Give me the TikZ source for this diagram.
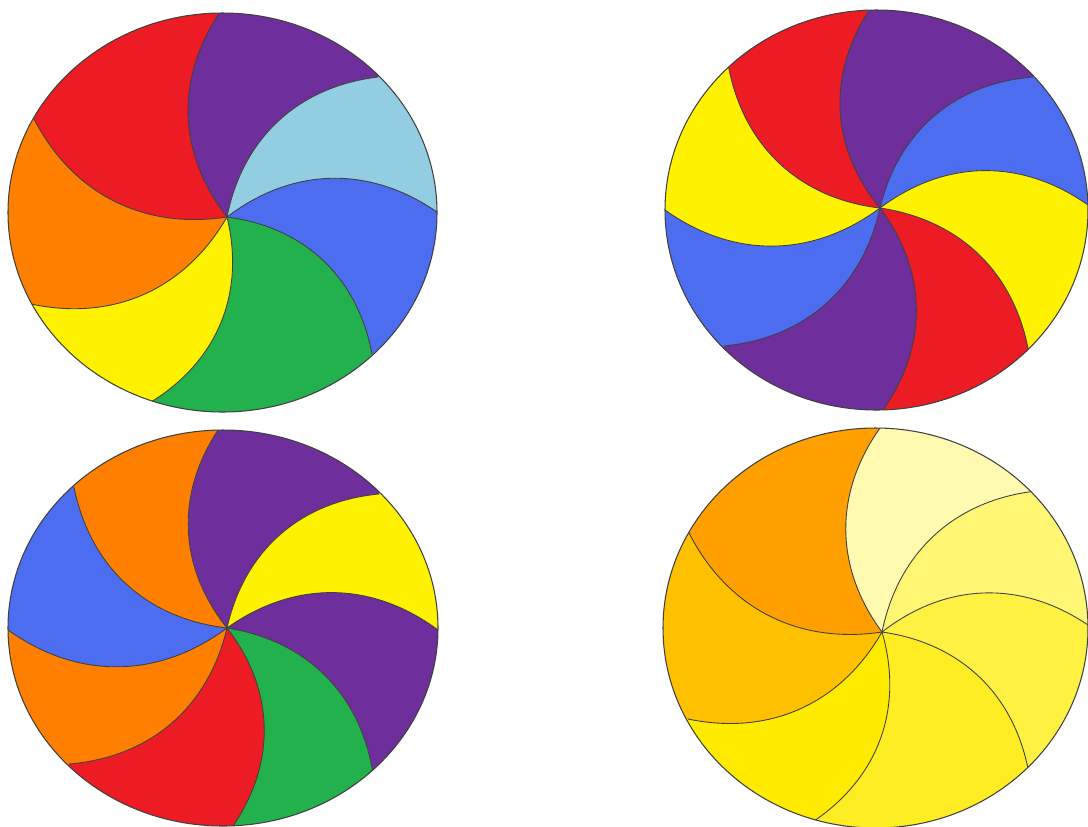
\documentclass[tikz,border=0pt]{standalone}
\usepackage{xcolor}
\usepackage{tikz}
\usetikzlibrary{calc}

% Wheel colours
\definecolor{wRed}{RGB}{237,28,36}
\definecolor{wPurple}{RGB}{110,46,155}
\definecolor{wSky}{RGB}{147,205,225}
\definecolor{wBlue}{RGB}{76,109,240}
\definecolor{wGreen}{RGB}{34,177,76}
\definecolor{wYellow}{RGB}{255,242,0}
\definecolor{wOrange}{RGB}{255,127,0}
% Shades for the last wheel
\definecolor{sOrange}{RGB}{255,160,0}
\definecolor{sAmber}{RGB}{255,192,0}
\definecolor{sYellowA}{RGB}{255,235,0}
\definecolor{sYellowB}{RGB}{255,237,35}
\definecolor{sYellowC}{RGB}{255,241,65}
\definecolor{sYellowD}{RGB}{255,246,115}
\definecolor{sYellowE}{RGB}{255,250,175}

\tikzset{
  rim/.style={draw=black!75, line width=0.6pt},
  swirl/.style={draw=black!75, line width=0.5pt}
}

\begin{document}
\begin{tikzpicture}[x=0.02cm, y=-0.02cm]

    % Canvas in pixel units, y pointing down
    \useasboundingbox (0,0) rectangle (1088,826);

    % Bend of every swirl line
    \def\bn{36}

    % ---- Wheel 1 (top left), seven colours ----
    \coordinate (c1) at (227,217);
    \foreach \i/\px/\py in {1/220/12, 2/378/77, 3/437/212, 4/372/354, 5/151/402, 6/31/304, 7/33/117}
        \coordinate (p\i) at (\px,\py);
    \begin{scope}
        \clip (222.5,212.5) ellipse (214.5 and 199.5);
        \foreach \i/\j/\col in {1/2/wPurple, 2/3/wSky, 3/4/wBlue, 4/5/wGreen, 5/6/wYellow, 6/7/wOrange, 7/1/wRed}
            \fill[\col] (c1) to[bend left=\bn] (p\i) -- ($(c1)!1.8!(p\i)$) -- ($(c1)!1.8!(p\j)$) -- (p\j) to[bend right=\bn] (c1) -- cycle;
        \foreach \i in {1,...,7}
            \draw[swirl] (c1) to[bend left=\bn] (p\i);
    \end{scope}
    \draw[rim] (222.5,212.5) ellipse (214.5 and 199.5);

    % ---- Wheel 2 (top right), four colours twice ----
    \coordinate (c2) at (880,208);
    \foreach \i/\px/\py in {1/868/12, 2/1033/77, 3/1088/205, 4/1029/354, 5/883/410, 6/724/346, 7/665/210, 8/729/69}
        \coordinate (q\i) at (\px,\py);
    \begin{scope}
        \clip (876.5,210) ellipse (211.5 and 200);
        \foreach \i/\j/\col in {1/2/wPurple, 2/3/wBlue, 3/4/wYellow, 4/5/wRed, 5/6/wPurple, 6/7/wBlue, 7/8/wYellow, 8/1/wRed}
            \fill[\col] (c2) to[bend left=\bn] (q\i) -- ($(c2)!1.8!(q\i)$) -- ($(c2)!1.8!(q\j)$) -- (q\j) to[bend right=\bn] (c2) -- cycle;
        \foreach \i in {1,...,8}
            \draw[swirl] (c2) to[bend left=\bn] (q\i);
    \end{scope}
    \draw[rim] (876.5,210) ellipse (211.5 and 200);

    % ---- Wheel 3 (bottom left), eight parts ----
    \coordinate (c3) at (227,628);
    \foreach \i/\px/\py in {1/218/430, 2/379/494, 3/438/630, 4/373/773, 5/233/826, 6/69/764, 7/8/630, 8/74/487}
        \coordinate (r\i) at (\px,\py);
    \begin{scope}
        \clip (223,628) ellipse (215 and 198);
        \foreach \i/\j/\col in {1/2/wPurple, 2/3/wYellow, 3/4/wPurple, 4/5/wGreen, 5/6/wRed, 6/7/wOrange, 7/8/wBlue, 8/1/wOrange}
            \fill[\col] (c3) to[bend left=\bn] (r\i) -- ($(c3)!1.8!(r\i)$) -- ($(c3)!1.8!(r\j)$) -- (r\j) to[bend right=\bn] (c3) -- cycle;
        \foreach \i in {1,...,8}
            \draw[swirl] (c3) to[bend left=\bn] (r\i);
    \end{scope}
    \draw[rim] (223,628) ellipse (215 and 198);

    % ---- Wheel 4 (bottom right), orange to pale yellow ----
    \coordinate (c4) at (882,632);
    \foreach \i/\px/\py in {1/880/428, 2/1036/491, 3/1088/625, 4/1029/774, 5/814/821, 6/688/719, 7/688/531}
        \coordinate (s\i) at (\px,\py);
    \begin{scope}
        \clip (875.5,628) ellipse (212.5 and 200);
        \foreach \i/\j/\col in {1/2/sYellowE, 2/3/sYellowD, 3/4/sYellowC, 4/5/sYellowB, 5/6/sYellowA, 6/7/sAmber, 7/1/sOrange}
            \fill[\col] (c4) to[bend left=\bn] (s\i) -- ($(c4)!1.8!(s\i)$) -- ($(c4)!1.8!(s\j)$) -- (s\j) to[bend right=\bn] (c4) -- cycle;
        \foreach \i in {1,...,7}
            \draw[swirl] (c4) to[bend left=\bn] (s\i);
    \end{scope}
    \draw[rim] (875.5,628) ellipse (212.5 and 200);

\end{tikzpicture}
\end{document}
